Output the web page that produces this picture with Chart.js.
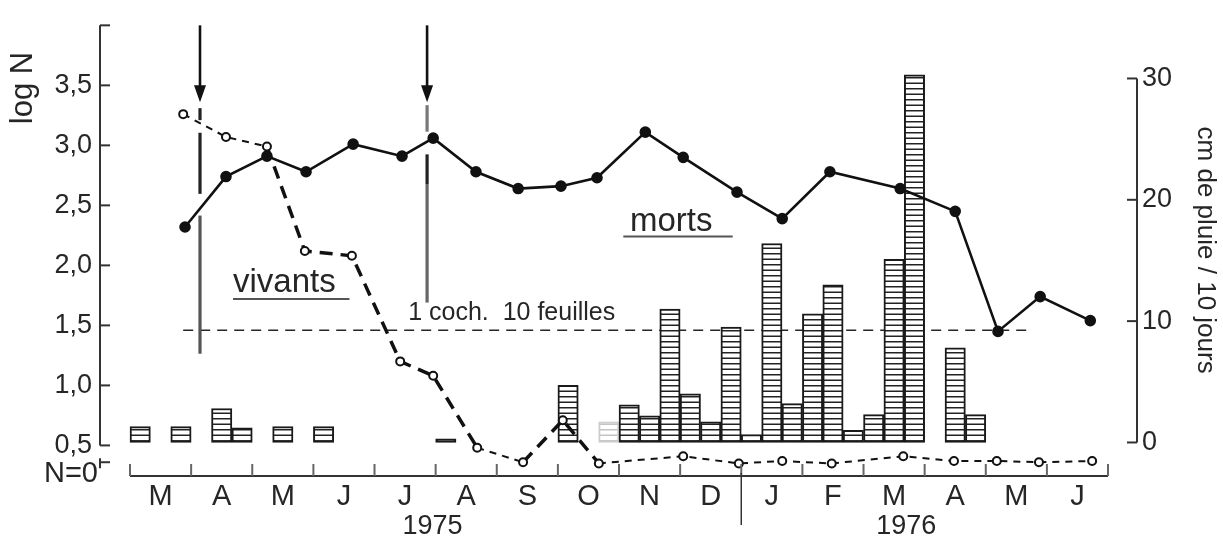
<!DOCTYPE html>
<html>
<head>
<meta charset="utf-8">
<script src="https://cdn.jsdelivr.net/npm/chart.js@4.4.1/dist/chart.umd.min.js"></script>
<style>
  html, body { margin: 0; padding: 0; background: #fff; }
</style>
</head>
<body>
<canvas id="graf" width="1223" height="539"></canvas>
<script>
// mois, de mars 1975 a juin 1976
const mois = ["M", "A", "M", "J", "J", "A", "S", "O", "N", "D", "J", "F", "M", "A", "M", "J"];
const annees = ["1975", "1976"];

// cochenilles mortes (log N), x = mois depuis le 1er mars 1975
const mortsX = [0.90, 1.57, 2.24, 2.88, 3.65, 4.45, 4.96, 5.66, 6.35, 7.05, 7.64, 8.43, 9.05, 9.93, 10.67, 11.45, 12.60, 13.50, 14.20, 14.89, 15.71];
const mortsLogN = [2.32, 2.74, 2.91, 2.78, 3.01, 2.91, 3.06, 2.78, 2.64, 2.66, 2.73, 3.11, 2.90, 2.61, 2.39, 2.78, 2.64, 2.45, 1.45, 1.74, 1.54];

// cochenilles vivantes (log N) ; ~0,36 = ligne N = 0
const vivantsX = [0.87, 1.57, 2.24, 2.86, 3.63, 4.42, 4.96, 5.68, 6.43, 7.08, 7.67, 9.05, 9.96, 10.67, 11.48, 12.65, 13.48, 14.18, 14.87, 15.74];
const vivantsLogN = [3.26, 3.07, 2.99, 2.12, 2.08, 1.20, 1.08, 0.48, 0.36, 0.71, 0.35, 0.41, 0.35, 0.37, 0.35, 0.41, 0.37, 0.37, 0.36, 0.37];

// pluie par decade (0 = 1re decade de mars 1975), cm / 10 jours
const pluieDecade = [0, 2, 4, 5, 7, 9, 15, 21, 23, 24, 25, 26, 27, 28, 29, 30, 31, 32, 33, 34, 35, 36, 37, 38, 40, 41];
const pluieCm = [1.3, 1.3, 2.8, 1.2, 1.3, 1.3, 0.3, 4.7, 1.7, 3.1, 2.2, 11.0, 4.0, 1.7, 9.5, 0.65, 16.4, 3.2, 10.6, 13.0, 1.0, 2.3, 15.1, 30.3, 7.8, 2.3];

const ticksLogN = [0.5, 1.0, 1.5, 2.0, 2.5, 3.0, 3.5];
const ticksPluie = [0, 10, 20, 30];
const nZero = 0.36;   // position de N = 0 sur l'axe
const seuil = 1.46;   // 1 coch. / 10 feuilles

const police = '"Liberation Sans", Arial, sans-serif';
const encre = '#262626';

// hachures horizontales des barres de pluie
function hachures(couleur) {
    const c = document.createElement('canvas');
    c.width = 4; c.height = 11;
    const g = c.getContext('2d');
    g.fillStyle = '#fff';
    g.fillRect(0, 0, 4, 11);
    g.fillStyle = couleur;
    g.fillRect(0, 0, 4, 1.5);
    g.fillRect(0, 5.5, 4, 1.5);
    return document.getElementById('graf').getContext('2d').createPattern(c, 'repeat');
}
const hachNoir = hachures('#222');
const hachPale = hachures('#c4c4c4');

// segments en gros tirets de la courbe des vivants
const segEpais = [2, 3, 4, 5, 6, 8, 9];

// decorations : axes, fleches, textes
const deco = {
    id: 'deco',
    beforeDatasetsDraw(chart) {
        const { ctx, scales: { x, yL } } = chart;
        const px = v => x.getPixelForValue(v);
        const py = v => yL.getPixelForValue(v);
        ctx.save();

        // ligne seuil
        ctx.strokeStyle = encre;
        ctx.lineWidth = 1.5;
        ctx.setLineDash([10, 7]);
        ctx.beginPath();
        ctx.moveTo(px(0.87), py(seuil));
        ctx.lineTo(px(14.67), py(seuil));
        ctx.stroke();
        ctx.setLineDash([]);

        // fleches (traitements)
        [[1.145, [[3.31, 3.21, '#222'], [3.105, 2.596, '#222'], [2.415, 1.264, '#555']]],
         [4.86, [[3.335, 3.114, '#777'], [2.925, 2.678, '#222'], [2.678, 1.69, '#666']]]].forEach(([m, traits]) => {
            const xa = px(m);
            ctx.strokeStyle = '#111';
            ctx.lineWidth = 2.6;
            ctx.beginPath();
            ctx.moveTo(xa, py(4.0));
            ctx.lineTo(xa, py(3.45));
            ctx.stroke();
            ctx.fillStyle = '#111';
            ctx.beginPath();
            ctx.moveTo(xa - 6, py(3.5));
            ctx.lineTo(xa + 6, py(3.5));
            ctx.lineTo(xa, py(3.36));
            ctx.closePath();
            ctx.fill();
            ctx.lineWidth = 3.2;
            traits.forEach(([a, b, col]) => {
                ctx.strokeStyle = col;
                ctx.beginPath();
                ctx.moveTo(xa, py(a));
                ctx.lineTo(xa, py(b));
                ctx.stroke();
            });
        });

        // textes
        ctx.fillStyle = encre;
        ctx.textBaseline = 'middle';
        ctx.textAlign = 'left';
        ctx.font = `25px ${police}`;
        ctx.fillText('1 coch.  10 feuilles', px(4.55), py(1.60));
        ctx.font = `33px ${police}`;
        ctx.fillText('vivants', px(1.685), py(1.856));
        ctx.fillText('morts', px(8.18), py(2.366));
        ctx.strokeStyle = '#555';
        ctx.lineWidth = 2;
        ctx.beginPath();
        ctx.moveTo(px(1.685), py(1.72)); ctx.lineTo(px(3.59), py(1.72));
        ctx.moveTo(px(8.07), py(2.24)); ctx.lineTo(px(9.86), py(2.24));
        ctx.stroke();
        ctx.restore();
    },
    afterDraw(chart) {
        const { ctx, chartArea, scales: { x, yL, yR } } = chart;
        const px = v => x.getPixelForValue(v);
        ctx.save();
        ctx.strokeStyle = '#333';
        ctx.lineWidth = 2;
        const trait = (x1, y1, x2, y2) => { ctx.beginPath(); ctx.moveTo(x1, y1); ctx.lineTo(x2, y2); ctx.stroke(); };

        // axe log N
        const xl = yL.right;
        trait(xl, yL.getPixelForValue(4.0), xl, yL.getPixelForValue(0.5));
        ticksLogN.concat([4.0]).forEach(v => trait(xl, yL.getPixelForValue(v), xl + 10, yL.getPixelForValue(v)));
        const y0 = yL.getPixelForValue(nZero);
        trait(xl, y0 - 4, xl, y0 + 6);
        trait(xl, y0, xl + 10, y0);

        // axe pluie
        const xr = yR.left;
        trait(xr, yR.getPixelForValue(30), xr, yR.getPixelForValue(0));
        ticksPluie.forEach(v => trait(xr - 10, yR.getPixelForValue(v), xr, yR.getPixelForValue(v)));

        // axe du temps
        const yb = chartArea.bottom;
        trait(px(0), yb, px(mois.length), yb);
        ctx.strokeStyle = '#666';
        for (let m = 0; m <= mois.length; m++) trait(px(m), yb, px(m), yb - 12);
        ctx.strokeStyle = '#333';
        ctx.lineWidth = 1.5;
        trait(px(10), yb - 3, px(10), yb + 49);

        // textes des axes
        ctx.fillStyle = encre;
        ctx.textBaseline = 'middle';
        ctx.font = `27px ${police}`;
        ctx.textAlign = 'center';
        ctx.fillText(annees[0], px(4.95), 527);
        ctx.fillText(annees[1], px(12.7), 527);
        ctx.textAlign = 'right';
        ctx.font = `29px ${police}`;
        ctx.fillText('N=0', xl - 2, y0 + 12);
        ctx.translate(23, 88);
        ctx.rotate(-Math.PI / 2);
        ctx.textAlign = 'center';
        ctx.font = `31px ${police}`;
        ctx.fillText('log N', 0, 0);
        ctx.restore();
    }
};

new Chart(document.getElementById('graf'), {
    type: 'line',
    data: {
        datasets: [
            {
                type: 'line',
                label: 'vivants',
                data: vivantsX.map((m, i) => ({ x: m, y: vivantsLogN[i] })),
                yAxisID: 'yL',
                borderColor: '#111',
                borderWidth: 2,
                borderDash: [7, 6],
                pointRadius: 4,
                pointBorderWidth: 2,
                pointBackgroundColor: '#fff',
                pointBorderColor: '#111',
                tension: 0,
                segment: {
                    borderDash: c => segEpais.includes(c.p0DataIndex) ? [13, 8] : [7, 6],
                    borderWidth: c => segEpais.includes(c.p0DataIndex) ? 3.5 : 2
                },
                order: 0
            },
            {
                type: 'line',
                label: 'morts',
                data: mortsX.map((m, i) => ({ x: m, y: mortsLogN[i] })),
                yAxisID: 'yL',
                borderColor: '#111',
                borderWidth: 2.6,
                pointRadius: 4.5,
                pointBackgroundColor: '#111',
                pointBorderColor: '#111',
                tension: 0,
                order: 1
            },
            {
                type: 'bar',
                label: 'pluie',
                data: pluieDecade.map((d, i) => ({ x: (d + 0.5) / 3, y: pluieCm[i] })),
                yAxisID: 'yR',
                backgroundColor: pluieDecade.map(d => d === 23 ? hachPale : hachNoir),
                borderColor: pluieDecade.map(d => d === 23 ? '#ccc' : '#1a1a1a'),
                borderWidth: 2,
                borderSkipped: false,
                barPercentage: 1,
                categoryPercentage: 1,
                order: 2
            }
        ]
    },
    options: {
        responsive: false,
        animation: false,
        devicePixelRatio: 1,
        layout: { padding: { top: 18, left: 0, right: 0, bottom: 0 } },
        plugins: { legend: { display: false }, tooltip: { enabled: false } },
        scales: {
            x: {
                type: 'linear',
                min: -0.491,
                max: 16.474,
                offset: false,
                grid: { display: false, drawTicks: false },
                border: { display: false },
                afterBuildTicks: s => { s.ticks = mois.map((_, i) => ({ value: i + 0.5 })); },
                ticks: {
                    padding: 4,
                    autoSkip: false,
                    maxRotation: 0,
                    color: encre,
                    font: { family: police, size: 29 },
                    callback: (v, i) => mois[i]
                },
                afterFit: s => { s.height = 63; }
            },
            yL: {
                position: 'left',
                min: 0.2452,
                max: 4.0095,
                grid: { display: false, drawTicks: false },
                border: { display: false },
                afterBuildTicks: s => { s.ticks = ticksLogN.map(v => ({ value: v })); },
                ticks: {
                    padding: 8,
                    color: encre,
                    font: { family: police, size: 27 },
                    callback: v => v.toFixed(1).replace('.', ',')
                },
                afterFit: s => { s.width = 100; }
            },
            yR: {
                position: 'right',
                min: -2.764,
                max: 34.472,
                grid: { display: false, drawTicks: false },
                border: { display: false },
                afterBuildTicks: s => { s.ticks = ticksPluie.map(v => ({ value: v })); },
                ticks: {
                    padding: 5,
                    color: encre,
                    font: { family: police, size: 27 }
                },
                title: {
                    display: true,
                    text: 'cm de pluie / 10 jours',
                    color: encre,
                    font: { family: police, size: 26 },
                    padding: { top: 2, bottom: 0 }
                },
                afterFit: s => { s.width = 86; }
            }
        }
    },
    plugins: [deco]
});
</script>
</body>
</html>
